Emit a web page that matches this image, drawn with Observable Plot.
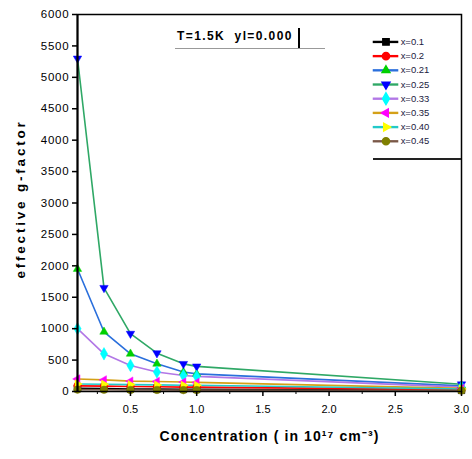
<!DOCTYPE html>
<html>
<head>
<meta charset="utf-8">
<script src="https://cdn.jsdelivr.net/npm/d3@7"></script>
<script src="https://cdn.jsdelivr.net/npm/@observablehq/plot@0.6"></script>
<style>
  html, body { margin: 0; padding: 0; background: #fff; }
  #wrap { position: relative; width: 472px; height: 459px; font-family: "Liberation Sans", Arial, sans-serif; }
  #wrap > svg { position: absolute; left: 0; top: 0; }
  #title { position: absolute; left: 175px; top: 28px; width: 150px; height: 21px; border-bottom: 1px solid #999; white-space: pre;
           font: bold 12px "Liberation Sans", Arial, sans-serif; letter-spacing: 1.4px; line-height: 16px; padding-left: 2px; box-sizing: border-box; }
  #title .bar { position: absolute; left: 123px; top: 0px; width: 2px; height: 20px; background: #000; }
  #legend { position: absolute; left: 373px; top: 31.5px; width: 88px; height: 126px; border-bottom: 2px solid #222; }
</style>
</head>
<body>
<div id="wrap"><div id="title">T=1.5K  yl=0.000<span class="bar"></span></div><div id="legend"></div></div>
<script>
// Concentration values (x)
const conc = [0.1, 0.3, 0.5, 0.7, 0.9, 1.0, 3.0];
// Series labels
const seriesLabels = ["x=0.1", "x=0.2", "x=0.21", "x=0.25", "x=0.33", "x=0.35", "x=0.40", "x=0.45"];
// Effective g-factor values per series
const g_01  = [50, 45, 40, 38, 35, 35, 20];
const g_02  = [90, 85, 80, 75, 70, 70, 30];
const g_021 = [1950, 950, 600, 440, 310, 280, 90];
const g_025 = [5300, 1650, 920, 610, 440, 400, 115];
const g_033 = [1000, 600, 415, 310, 255, 240, 70];
const g_035 = [200, 185, 165, 160, 150, 145, 50];
const g_040 = [120, 115, 110, 105, 100, 100, 40];
const g_045 = [30, 28, 25, 25, 22, 22, 15];
const seriesValues = [g_01, g_02, g_021, g_025, g_033, g_035, g_040, g_045];
// Tick values
const yTicks = d3.range(0, 6001, 500);
const xMajor = [0.5, 1.0, 1.5, 2.0, 2.5, 3.0];
const xMinor = [0.25, 0.75, 1.25, 1.75, 2.25, 2.75];

// Styles
const lineColors = ["#000000", "#ff0000", "#2a6fdc", "#2fa866", "#b277e6", "#d4a017", "#22c9c9", "#7a5848"];
const markColors = ["#000000", "#ff0000", "#00d000", "#0000ff", "#00ffff", "#ff00ff", "#ffff00", "#7f7f00"];

function triSym(angleDeg) {
  return {
    draw(ctx, size) {
      const R = Math.sqrt(size) * 0.72;
      const a0 = angleDeg * Math.PI / 180;
      for (let i = 0; i < 3; i++) {
        const a = a0 + i * 2 * Math.PI / 3;
        const px = R * Math.cos(a), py = R * Math.sin(a);
        if (i === 0) ctx.moveTo(px, py); else ctx.lineTo(px, py);
      }
      ctx.closePath();
    }
  };
}
const symbols = ["square", "circle", triSym(-90), triSym(90), "diamond", triSym(180), triSym(0), "circle"];

const rows = [];
seriesValues.forEach((vals, s) => vals.forEach((v, i) => rows.push({s, label: seriesLabels[s], x: conc[i], y: v})));

const seriesMarks = [];
seriesLabels.forEach((lab, s) => {
  const d = rows.filter(r => r.s === s);
  seriesMarks.push(Plot.line(d, {x: "x", y: "y", stroke: lineColors[s], strokeWidth: 1.6}));
});
seriesLabels.forEach((lab, s) => {
  const d = rows.filter(r => r.s === s);
  seriesMarks.push(Plot.dot(d, {x: "x", y: "y", fill: markColors[s], stroke: markColors[s], strokeWidth: 0.5, symbol: symbols[s], r: 3.8}));
});

const yLabel = "effective g-factor";
const xLabel = "Concentration ( in 10¹⁷ cm⁻³)";

const chart = Plot.plot({
  width: 472,
  height: 459,
  marginTop: 14,
  marginRight: 11,
  marginBottom: 68,
  marginLeft: 77,
  style: {fontFamily: "'Liberation Sans', Arial, sans-serif", background: "transparent"},
  x: {domain: [0.1, 3.0]},
  y: {domain: [0, 6000]},
  marks: [
    ...seriesMarks,
    Plot.frame({stroke: "#000", strokeWidth: 1.5}),
    Plot.ruleX([0.1], {stroke: "#000", strokeWidth: 2}),
    Plot.axisY({ticks: yTicks, tickSize: 5, tickPadding: 3, tickFormat: d => String(d), label: null,
                fontSize: 11.5, strokeWidth: 1.5}),
    Plot.axisX({ticks: xMajor, tickSize: 5, tickPadding: 9, tickFormat: d3.format(".1f"), label: null,
                fontSize: 11, strokeWidth: 1.5}),
    Plot.axisX({ticks: xMinor, tickSize: 3, tickFormat: () => "", label: null, strokeWidth: 1}),
    Plot.text([yLabel], {frameAnchor: "left", textAnchor: "middle", dx: -57, dy: -4, rotate: -90,
                fontSize: 13.5, fontWeight: "bold", fill: "#000"}),
    Plot.text([xLabel], {frameAnchor: "bottom", textAnchor: "middle", dy: 49, dx: 0,
                fontSize: 14, fontWeight: "bold", fill: "#000"})
  ]
});
// widen lettering to match the reference's wide type
d3.select(chart).selectAll("text").each(function() {
  const t = this.textContent;
  if (t === yLabel) this.style.letterSpacing = "2.8px";
  else if (t === xLabel) this.style.letterSpacing = "1.1px";
  else if (/^\d+$/.test(t)) this.style.letterSpacing = "0.8px";
});
document.getElementById("wrap").prepend(chart);

// Legend drawn as a small Plot
const legendRows = seriesLabels.map((label, s) => ({label, s}));
const legend = Plot.plot({
  width: 93,
  height: 124,
  margin: 0,
  style: {fontFamily: "'Liberation Sans', Arial, sans-serif", background: "transparent", overflow: "visible"},
  x: {domain: [0, 93], range: [0, 93], axis: null},
  y: {type: "point", domain: seriesLabels, padding: 0.5, axis: null},
  marks: [
    ...legendRows.map(r => Plot.ruleY([r.label], {x1: 5, x2: 32, stroke: lineColors[r.s], strokeWidth: 2.5})),
    ...legendRows.map(r => Plot.dot([r.label], {x: () => 18.5, y: d => d, fill: markColors[r.s], stroke: markColors[r.s], symbol: symbols[r.s], r: 3.8})),
    Plot.text(legendRows, {x: () => 34, y: "label", text: "label", textAnchor: "start", fontSize: 10, fill: "#1a1a40"})
  ]
});
legend.style.position = "absolute";
legend.style.left = "-5px";
legend.style.top = "0px";
document.getElementById("legend").appendChild(legend);
</script>
</body>
</html>
